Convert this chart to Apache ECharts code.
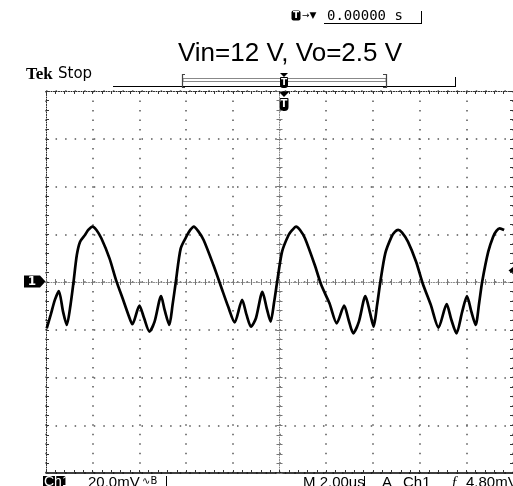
<!DOCTYPE html>
<html><head><meta charset="utf-8">
<script src="https://cdn.jsdelivr.net/npm/echarts/dist/echarts.min.js"></script>
<style>html,body{margin:0;padding:0;background:#fff}#c{width:513px;height:486px}</style>
</head><body><div id="c"></div>
<script>
// ---- data (time in microseconds relative to trigger, Ch1 in mV) ----
const timeUs = [-9.97,-9.80,-9.62,-9.45,-9.27,-9.11,-8.95,-8.82,-8.68,-8.54,-8.33,-8.19,-8.01,-7.84,-7.63,-7.28,-7.00,-6.72,-6.47,-6.30,-6.00,-5.80,-5.57,-5.35,-5.07,-4.92,-4.72,-4.58,-4.44,-4.23,-3.95,-3.82,-3.67,-3.49,-3.25,-2.83,-2.48,-2.20,-1.92,-1.60,-1.41,-1.22,-1.01,-0.73,-0.55,-0.38,-0.23,-0.10,0.11,0.39,0.55,0.71,0.88,1.09,1.51,1.79,2.14,2.45,2.77,2.96,3.16,3.40,3.68,3.87,4.03,4.18,4.32,4.53,4.80,4.94,5.08,5.25,5.50,5.85,6.13,6.48,6.81,7.16,7.35,7.58,7.82,8.03,8.21,8.40,8.55,8.68,8.94,9.15,9.29,9.43,9.62];
const ch1mV = [-19.4,-13.8,-7.5,-3.8,-12.4,-18.0,-9.6,0.1,11.3,16.9,19.7,21.8,23.2,21.8,18.3,9.9,0.8,-6.8,-13.8,-17.7,-9.9,-15.1,-20.8,-16.6,-5.9,-11.7,-18.0,-9.6,0.1,14.1,19.7,21.8,23.2,21.4,17.6,7.1,-2.6,-10.3,-16.9,-7.5,-13.8,-18.7,-15.2,-4.1,-10.9,-16.6,-8.4,0.1,12.7,19.7,21.8,23.2,21.8,18.3,7.1,-1.3,-8.9,-17.3,-9.9,-15.9,-21.5,-16.6,-5.9,-12.6,-18.7,-9.6,0.1,12.0,19.0,21.0,21.8,20.7,16.9,8.5,-0.5,-9.6,-19.1,-9.3,-15.5,-21.5,-12.6,-5.9,-12.2,-18.0,-8.8,0.1,12.7,19.0,21.4,22.5,21.8];
const timeRangeUs = [-10, 10];      // 2.00 us/div, 10 div
const timePerDivUs = 2;
const voltRangeMv = [-80, 80];      // 20.0 mV/div, 8 div
const voltPerDivMv = 20;
const titleText = 'Vin=12 V, Vo=2.5 V';
const triggerReadout = '0.00000 s';
const bottomTexts = ['20.0mV', 'M 2.00us', 'A', 'Ch1', '4.80mV'];

const seriesData = timeUs.map((t, i) => [t, ch1mV[i]]);

const GRID = {left: 46, top: 91, width: 476, height: 382};
const dotCol = '#555';

function xAx(o) {
  return Object.assign({type: 'value', min: timeRangeUs[0], max: timeRangeUs[1], interval: timePerDivUs,
    axisLabel: {show: false}, splitLine: {show: false}}, o);
}
function yAx(o) {
  return Object.assign({type: 'value', min: voltRangeMv[0], max: voltRangeMv[1], interval: voltPerDivMv,
    axisLabel: {show: false}, splitLine: {show: false}}, o);
}
const tickStyle = {color: '#333', width: 1};
const centerTick = {color: '#777', width: 1};

const option = {
  animation: false,
  backgroundColor: '#fff',
  grid: Object.assign({containLabel: false}, GRID),
  xAxis: [
    xAx({position: 'bottom', axisLine: {onZero: false, lineStyle: {color: '#000', width: 1.5}},
      axisTick: {show: true, inside: true, length: 3, lineStyle: tickStyle},
      minorTick: {show: true, splitNumber: 5, length: 3, lineStyle: tickStyle},
      splitLine: {show: true, lineStyle: {color: dotCol, width: 1.5, type: [1.5, 8.02]}}}),
    xAx({position: 'top', axisLine: {onZero: false, lineStyle: {color: '#222', width: 1, type: [1, 1.5]}},
      axisTick: {show: true, inside: true, length: 3, lineStyle: tickStyle},
      minorTick: {show: true, splitNumber: 5, length: 3, lineStyle: tickStyle}}),
    xAx({position: 'bottom', axisLine: {onZero: true, onZeroAxisIndex: 0, lineStyle: {color: '#888', width: 1, type: [1, 1.5]}},
      axisTick: {show: true, inside: false, length: 3, lineStyle: centerTick},
      minorTick: {show: true, splitNumber: 5, length: 3, lineStyle: centerTick}}),
    xAx({position: 'top', axisLine: {show: false, onZero: true, onZeroAxisIndex: 0},
      axisTick: {show: true, inside: false, length: 3, lineStyle: centerTick},
      minorTick: {show: true, splitNumber: 5, length: 3, lineStyle: centerTick}})
  ],
  yAxis: [
    yAx({position: 'left', axisLine: {onZero: false, lineStyle: {color: '#222', width: 1, type: [1, 1.5]}},
      axisTick: {show: true, inside: true, length: 3, lineStyle: tickStyle},
      minorTick: {show: true, splitNumber: 5, length: 3, lineStyle: tickStyle},
      splitLine: {show: true, lineStyle: {color: dotCol, width: 1.5, type: [1.5, 8.05]}}}),
    yAx({position: 'right', axisLine: {onZero: false, lineStyle: {color: '#222', width: 1, type: [1, 1.5]}},
      axisTick: {show: true, inside: true, length: 3, lineStyle: tickStyle},
      minorTick: {show: true, splitNumber: 5, length: 3, lineStyle: tickStyle}}),
    yAx({position: 'left', axisLine: {onZero: true, onZeroAxisIndex: 0, lineStyle: {color: '#888', width: 1, type: [1, 1.5]}},
      axisTick: {show: true, inside: false, length: 3, lineStyle: centerTick},
      minorTick: {show: true, splitNumber: 5, length: 3, lineStyle: centerTick}}),
    yAx({position: 'right', axisLine: {show: false, onZero: true, onZeroAxisIndex: 0},
      axisTick: {show: true, inside: false, length: 3, lineStyle: centerTick},
      minorTick: {show: true, splitNumber: 5, length: 3, lineStyle: centerTick}})
  ],
  series: [{
    type: 'line', xAxisIndex: 0, yAxisIndex: 0, data: seriesData,
    showSymbol: false, smooth: 0.25, z: 10,
    lineStyle: {color: '#000', width: 2.7}
  }],
  graphic: [
    // top trigger readout
    {type: 'rect', shape: {x: 291.5, y: 10.5, width: 9, height: 10, r: 2}, style: {fill: '#000'}},
    {type: 'text', style: {x: 296, y: 15.5, text: 'T', fill: '#fff', font: 'bold 9px "DejaVu Sans"', align: 'center', verticalAlign: 'middle'}},
    {type: 'text', style: {x: 302, y: 15.5, text: '→▼', fill: '#000', font: '9px "DejaVu Sans"', verticalAlign: 'middle'}},
    {type: 'text', style: {x: 327, y: 16, text: triggerReadout, fill: '#000', font: '14px "DejaVu Sans Mono"', verticalAlign: 'middle'}},
    {type: 'line', shape: {x1: 324, y1: 23.5, x2: 421, y2: 23.5}, style: {stroke: '#000', lineWidth: 1}},
    {type: 'line', shape: {x1: 421.5, y1: 11, x2: 421.5, y2: 24}, style: {stroke: '#000', lineWidth: 1}},
    // title
    {type: 'text', style: {x: 290, y: 54, text: titleText, fill: '#000', font: '26px "Liberation Sans", Arial', align: 'center', verticalAlign: 'middle'}},
    // Tek Stop
    {type: 'text', style: {x: 26, y: 75, text: 'Tek', fill: '#000', font: 'bold 17px "Liberation Serif"', verticalAlign: 'middle'}},
    {type: 'text', style: {x: 58, y: 74, text: 'Stop', fill: '#000', font: '15px "DejaVu Sans"', verticalAlign: 'middle'}},
    // record bar
    {type: 'line', shape: {x1: 113, y1: 86.5, x2: 455, y2: 86.5}, style: {stroke: '#000', lineWidth: 1}},
    {type: 'line', shape: {x1: 455.5, y1: 77, x2: 455.5, y2: 87}, style: {stroke: '#000', lineWidth: 1}},
    {type: 'rect', shape: {x: 183, y: 78.5, width: 203, height: 3}, style: {fill: 'none', stroke: '#888', lineWidth: 1}},
    {type: 'polyline', shape: {points: [[185, 74.5], [182.5, 74.5], [182.5, 87.5], [185, 87.5]]}, style: {stroke: '#444', lineWidth: 1.2, fill: 'none'}},
    {type: 'polyline', shape: {points: [[383, 74.5], [386.5, 74.5], [386.5, 87.5], [383, 87.5]]}, style: {stroke: '#444', lineWidth: 1.2, fill: 'none'}},
    {type: 'polygon', shape: {points: [[280, 73], [288, 73], [284, 77]]}, style: {fill: '#000'}},
    {type: 'rect', shape: {x: 280, y: 77, width: 8, height: 11, r: [1, 1, 3, 3]}, style: {fill: '#000'}},
    {type: 'text', style: {x: 284, y: 82.5, text: 'T', fill: '#fff', font: 'bold 9px "DejaVu Sans"', align: 'center', verticalAlign: 'middle'}},
    // trigger position marker on graticule
    {type: 'polygon', shape: {points: [[278, 91], [290, 91], [284, 97]]}, style: {fill: '#000'}},
    {type: 'rect', shape: {x: 279.5, y: 98, width: 9, height: 13, r: [1, 1, 4, 4]}, style: {fill: '#000'}},
    {type: 'text', style: {x: 284, y: 104.5, text: 'T', fill: '#fff', font: 'bold 10px "DejaVu Sans"', align: 'center', verticalAlign: 'middle'}},
    // channel 1 ground marker
    {type: 'polygon', shape: {points: [[24, 275.5], [40, 275.5], [45.5, 281.5], [40, 287.5], [24, 287.5]]}, style: {fill: '#000'}},
    {type: 'text', style: {x: 32, y: 281.5, text: '1', fill: '#fff', font: 'bold 12px "DejaVu Sans"', align: 'center', verticalAlign: 'middle'}},
    // trigger level marker at right
    {type: 'polygon', shape: {points: [[513, 267], [508.5, 270.5], [513, 274]]}, style: {fill: '#000'}},
    // bottom readouts
    {type: 'rect', shape: {x: 43, y: 476, width: 23, height: 12}, style: {fill: '#000'}},
    {type: 'text', style: {x: 44, y: 475, text: 'Ch1', fill: '#fff', font: '14px "Liberation Sans"', verticalAlign: 'top'}},
    {type: 'text', style: {x: 88, y: 475, text: bottomTexts[0], fill: '#000', font: '15px "Liberation Sans"', verticalAlign: 'top'}},
    {type: 'text', style: {x: 142, y: 476, text: '∿B', fill: '#000', font: '10px "DejaVu Sans"', verticalAlign: 'top'}},
    {type: 'line', shape: {x1: 166.5, y1: 476, x2: 166.5, y2: 486}, style: {stroke: '#000', lineWidth: 1}},
    {type: 'text', style: {x: 303, y: 475, text: bottomTexts[1], fill: '#000', font: '15px "Liberation Sans"', verticalAlign: 'top'}},
    {type: 'line', shape: {x1: 364.5, y1: 476, x2: 364.5, y2: 486}, style: {stroke: '#000', lineWidth: 1}},
    {type: 'text', style: {x: 382, y: 475, text: bottomTexts[2], fill: '#000', font: '15px "Liberation Sans"', verticalAlign: 'top'}},
    {type: 'text', style: {x: 403, y: 475, text: bottomTexts[3], fill: '#000', font: '15px "Liberation Sans"', verticalAlign: 'top'}},
    {type: 'text', style: {x: 451, y: 475, text: 'ƒ', fill: '#000', font: 'italic 15px "Liberation Serif"', verticalAlign: 'top'}},
    {type: 'text', style: {x: 466, y: 475, text: bottomTexts[4], fill: '#000', font: '15px "Liberation Sans"', verticalAlign: 'top'}}
  ]
};
const chart = echarts.init(document.getElementById('c'), null, {renderer: 'canvas'});
chart.setOption(option);
</script>
</body></html>
